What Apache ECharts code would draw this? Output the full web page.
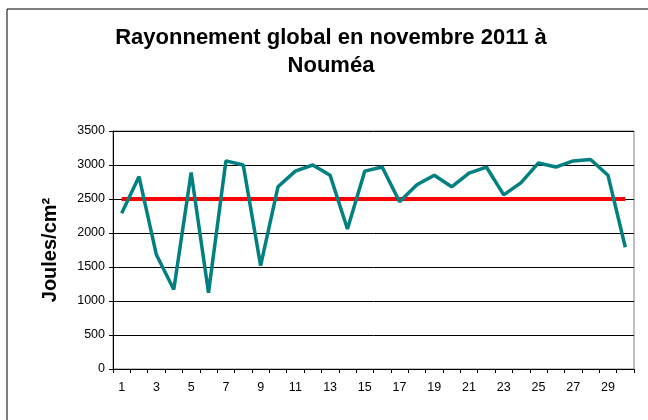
<!DOCTYPE html>
<html>
<head>
<meta charset="utf-8">
<script src="https://cdn.jsdelivr.net/npm/echarts@6/dist/echarts.min.js"></script>
<style>
html,body{margin:0;padding:0;background:#fff;}
#chart{width:648px;height:420px;}
</style>
</head>
<body>
<div id="chart"></div>
<script>
const days = ['1','2','3','4','5','6','7','8','9','10','11','12','13','14','15','16','17','18','19','20','21','22','23','24','25','26','27','28','29','30'];
const rayonnement = [2290, 2830, 1680, 1170, 2890, 1120, 3060, 3000, 1520, 2680, 2910, 3000, 2850, 2060, 2910, 2970, 2460, 2710, 2850, 2680, 2880, 2970, 2560, 2740, 3030, 2970, 3060, 3080, 2850, 1790];
const seuil = [2500, 2500, 2500, 2500, 2500, 2500, 2500, 2500, 2500, 2500, 2500, 2500, 2500, 2500, 2500, 2500, 2500, 2500, 2500, 2500, 2500, 2500, 2500, 2500, 2500, 2500, 2500, 2500, 2500, 2500];
const titleText = 'Rayonnement global en novembre 2011 à\nNouméa';
const yName = 'Joules/cm²';

const chart = echarts.init(document.getElementById('chart'), null, {renderer: 'canvas'});
const font = 'Liberation Sans, Arial, sans-serif';
chart.setOption({
  animation: false,
  backgroundColor: '#fff',
  graphic: [
    {type: 'rect', shape: {x: 7, y: 9, width: 800, height: 600}, style: {fill: 'none', stroke: '#000', lineWidth: 1}, z: -1},
    {type: 'text', x: 331, y: 52, style: {text: titleText, textAlign: 'center', textVerticalAlign: 'middle', fontSize: 22, fontWeight: 'bold', fontFamily: font, lineHeight: 28, fill: '#000'}}
  ],
  grid: {left: 113, right: 14, top: 131, bottom: 51, show: true, borderColor: '#808080', borderWidth: 1, backgroundColor: 'transparent'},
  xAxis: {
    type: 'category', data: days, boundaryGap: true,
    axisLine: {lineStyle: {color: '#000', width: 1}},
    axisTick: {show: true, length: 4, inside: false, interval: 0, lineStyle: {color: '#000'}},
    axisLabel: {interval: 1, color: '#000', fontSize: 12.5, fontFamily: font, margin: 12},
    splitLine: {show: false}
  },
  yAxis: {
    type: 'value', min: 0, max: 3500, interval: 500,
    name: yName, nameLocation: 'middle', nameGap: 53, nameRotate: 90,
    nameTextStyle: {fontSize: 20, fontWeight: 'bold', fontFamily: font, color: '#000'},
    axisLine: {show: true, lineStyle: {color: '#000', width: 1}},
    axisTick: {show: true, length: 4, lineStyle: {color: '#000'}},
    axisLabel: {color: '#000', fontSize: 12.5, fontFamily: font, margin: 8, formatter: function (v) { return String(v); }},
    splitLine: {show: true, lineStyle: {color: '#000', width: 1}}
  },
  series: [
    {type: 'line', data: seuil, showSymbol: false, symbol: 'none', lineStyle: {color: '#FF0000', width: 4}, z: 2},
    {type: 'line', data: rayonnement, showSymbol: false, symbol: 'none', lineStyle: {color: '#008080', width: 3.5}, z: 3}
  ]
});
</script>
</body>
</html>
